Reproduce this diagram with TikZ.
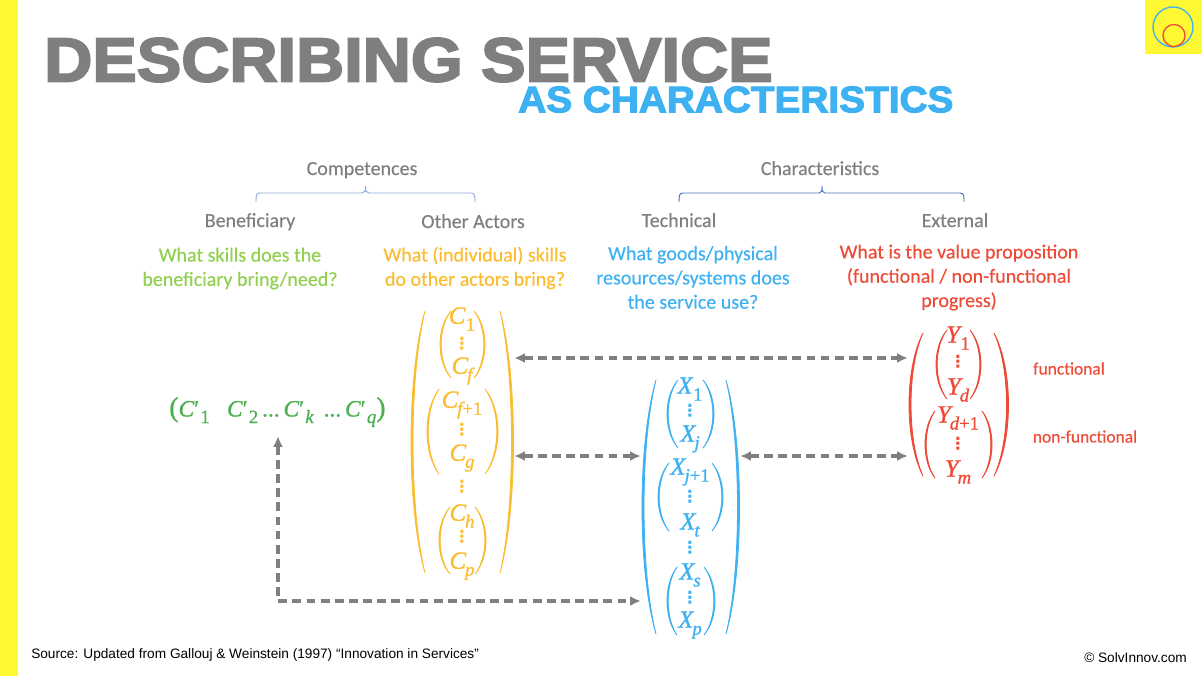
\documentclass[tikz,border=0pt]{standalone}
\usepackage{fontspec}
\usetikzlibrary{arrows.meta}
\setmainfont[FakeBold=0.25]{Carlito}
\newfontfamily\titlefont[FakeBold=3.2,FakeStretch=1.075]{Liberation Sans Bold}
\newfontfamily\subtitlefont[FakeBold=3,FakeStretch=1.05]{Liberation Sans Bold}
\newfontfamily\mathvar[FakeBold=1]{Liberation Serif Italic}
\newfontfamily\mathnum[FakeBold=0.7]{Liberation Serif}
\newfontfamily\plainsans{Liberation Sans}
\newfontfamily\dotfont{DejaVu Sans Bold}
\definecolor{ttgray}{HTML}{7F7F7F}
\definecolor{skyc}{HTML}{3DB1F2}
\definecolor{ambc}{HTML}{FBBC2D}
\definecolor{redc}{HTML}{EE4A36}
\definecolor{limec}{HTML}{92D050}
\definecolor{leafc}{HTML}{4CAF50}
\definecolor{yelc}{HTML}{FFF933}
\definecolor{bracea}{HTML}{8FAADC}
\definecolor{braceb}{HTML}{4472C4}
\newcommand{\subfont}{\fontsize{14}{15}\selectfont}
\newcommand{\mv}[2]{{\mathvar #1}\kern-0.04em\raisebox{-0.28em}{\subfont\mathvar #2}}
\newcommand{\mn}[2]{{\mathvar #1}\kern 0.02em\raisebox{-0.28em}{\subfont\mathnum #2}}
\newcommand{\mvn}[3]{{\mathvar #1}\kern-0.04em\raisebox{-0.28em}{\subfont{\mathvar #2}{\mathnum +1}}}
\newcommand{\mpr}[2]{{\mathvar #1}{\mathnum\char"2032}\kern 0.05em\raisebox{-0.28em}{\subfont #2}}
% crescent shaped pair of parentheses: colour, xtopL, xbulgeL, xtopR, xbulgeR, ytop, ybottom, thickness
\newcommand{\parenpair}[8]{%
  \pgfmathsetmacro{\cyt}{#6+0.25*(#7-#6)}%
  \pgfmathsetmacro{\cyb}{#7-0.25*(#7-#6)}%
  \pgfmathsetmacro{\cla}{#2+(#3-#2)/0.75}%
  \pgfmathsetmacro{\clb}{\cla+#8/0.75}%
  \pgfmathsetmacro{\cra}{#4+(#5-#4)/0.75}%
  \pgfmathsetmacro{\crb}{\cra-#8/0.75}%
  \path[fill=#1,draw=#1,line width=0.6pt,line join=round]
    (#2,#6) .. controls (\cla,\cyt) and (\cla,\cyb) .. (#2,#7)
            .. controls (\clb,\cyb) and (\clb,\cyt) .. cycle;
  \path[fill=#1,draw=#1,line width=0.6pt,line join=round]
    (#4,#6) .. controls (\cra,\cyt) and (\cra,\cyb) .. (#4,#7)
            .. controls (\crb,\cyb) and (\crb,\cyt) .. cycle;
}
\tikzset{
  x=0.75pt,y=-0.75pt,
  head/.style={font=\fontsize{15}{17}\selectfont,text=ttgray,inner sep=0pt,anchor=base},
  ask/.style={font=\fontsize{15}{18.2}\selectfont,inner sep=0pt,align=center},
  mvar/.style={font=\fontsize{18.6}{22}\selectfont,inner sep=0pt},
  vdot/.style={font=\dotfont\fontsize{12.5}{13}\selectfont,inner sep=0pt},
  slot/.style={inner sep=0pt,minimum width=#1},
  link/.style={draw=ttgray,line width=2.4pt,dash pattern=on 6.6pt off 4pt,
    {Latex[length=8pt,width=7.5pt]}-{Latex[length=8pt,width=7.5pt]}},
  bracket/.style={line width=0.7pt},
  side/.style={font=\fontsize{13.1}{15}\selectfont,text=redc,inner sep=0pt},
  foot/.style={font=\plainsans\fontsize{10.25}{12}\selectfont,text=black,inner sep=0pt}
}
\begin{document}
\begin{tikzpicture}
\useasboundingbox (0,0) rectangle (1202,676);
\fill[white] (0,0) rectangle (1202,676);
\fill[yelc] (0,0) rectangle (18,676);
\fill[yelc] (1145,0) rectangle (1202,54);
\draw[skyc,line width=1pt] (1173,27) circle [radius=20];
\draw[redc,line width=1pt] (1174,35.5) circle [radius=11];

\node[anchor=west,inner sep=0pt,text=ttgray,font=\titlefont\fontsize{46.5}{48}\selectfont] (title) at (44,60) {DESCRIBING SERVICE};
\node[anchor=west,inner sep=0pt,text=skyc,font=\subtitlefont\fontsize{27.7}{30}\selectfont] (subtitle) at (518,99.5) {AS CHARACTERISTICS};

% group headings
\node[head] (comp) at (362,175) {Competences};
\node[head] (char) at (820,175) {Characteristics};
\node[head] (bene) at (250,227) {Beneficiary};
\node[head] (other) at (473,228) {Other Actors};
\node[head] (tech) at (679,227) {Technical};
\node[head] (ext) at (955,227) {External};
\draw[bracea,bracket] (256,202) .. controls (256,196) and (256,193) .. (260,193) -- (362,193) .. controls (365,193) and (365.5,191) .. (365.5,186) .. controls (365.5,191) and (366,193) .. (369,193) -- (471,193) .. controls (475,193) and (475,196) .. (475,202);
\draw[braceb,bracket] (679,202) .. controls (679,196) and (679,193) .. (683,193) -- (819,193) .. controls (822,193) and (822,191) .. (822,186) .. controls (822,191) and (822.5,193) .. (825,193) -- (960,193) .. controls (964,193) and (964,196) .. (964,202);

% questions
\node[ask,text=limec] (q1) at (240,268.5) {What skills does the\\beneficiary bring/need?};
\node[ask,text=ambc] (q2) at (475,268) {What (individual) skills\\do other actors bring?};
\node[ask,text=skyc] (q3) at (693,277.5) {What goods/physical\\resources/systems does\\the service use?};
\node[ask,text=redc] (q4) at (959,277.5) {What is the value proposition\\(functional / non-functional\\progress)};

% anchors for connectors
\node[slot=103*0.75pt,minimum height=196.5pt] (cbox) at (462.5,442) {};
\node[slot=99*0.75pt,minimum height=191pt] (xbox) at (690.5,507) {};
\node[slot=101*0.75pt,minimum height=109pt] (ybox) at (958.5,405) {};
\coordinate (rowa) at (0,358);
\coordinate (rowb) at (0,456);
\coordinate (rowc) at (278,601);

% orange
\parenpair{ambc}{425}{411}{500}{513.5}{311}{573}{2}
\parenpair{ambc}{451}{440}{474}{485}{311}{378}{1.2}
\parenpair{ambc}{439}{427}{485}{498}{389}{474}{1.2}
\parenpair{ambc}{450}{439}{475}{486}{507}{574}{1.2}
\begin{scope}[text=ambc]
\node[mvar] (c1) at (462,319) {\mn{C}{1}};
\node[vdot] (cd1) at (462,344) {⋮};
\node[mvar] (cf) at (462,371) {\mv{C}{f}};
\node[mvar] (cf1) at (462,405) {\mvn{C}{f}{1}};
\node[vdot] (cd2) at (462,430) {⋮};
\node[mvar] (cg) at (462,458) {\mv{C}{g}};
\node[vdot] (cd3) at (462,487) {⋮};
\node[mvar] (ch) at (462,516) {\mv{C}{h}};
\node[vdot] (cd4) at (462,537) {⋮};
\node[mvar] (cp) at (462,566) {\mv{C}{p}};
\end{scope}

% blue
\parenpair{skyc}{656}{642}{726}{739.5}{380}{634}{2}
\parenpair{skyc}{678}{667}{703}{714}{380}{448}{1.2}
\parenpair{skyc}{669}{658}{712}{723}{463}{531}{1.2}
\parenpair{skyc}{677}{667}{704}{715}{567}{635}{1.2}
\begin{scope}[text=skyc]
\node[mvar] (x1) at (690,389) {\mn{X}{1}};
\node[vdot] (xd1) at (690,411) {⋮};
\node[mvar] (xj) at (690,439) {\mv{X}{j}};
\node[mvar] (xj1) at (690,472) {\mvn{X}{j}{1}};
\node[vdot] (xd2) at (690,497) {⋮};
\node[mvar] (xt) at (690,525) {\mv{X}{t}};
\node[vdot] (xd3) at (690,548) {⋮};
\node[mvar] (xs) at (690,575) {\mv{X}{s}};
\node[vdot] (xd4) at (690,598) {⋮};
\node[mvar] (xp) at (690,625) {\mv{X}{p}};
\end{scope}

% red
\parenpair{redc}{923}{909}{994}{1008.5}{333}{476}{2}
\parenpair{redc}{947}{936}{970}{981}{330}{399}{1.2}
\parenpair{redc}{935}{925}{982}{992}{411}{478}{1.2}
\begin{scope}[text=redc]
\node[mvar] (y1) at (958,338) {\mn{Y}{1}};
\node[vdot] (yd1) at (958,362) {⋮};
\node[mvar] (yd) at (958,390) {\mv{Y}{d}};
\node[mvar] (yd1b) at (958,418) {\mvn{Y}{d}{1}};
\node[vdot] (yd2) at (958,444) {⋮};
\node[mvar] (ym) at (958,472) {\mv{Y}{m}};
\end{scope}
\node[side] (func) at (1069,368.5) {functional};
\node[side] (nfunc) at (1085,436.5) {non-functional};

% green row
\node[text=leafc,anchor=west,inner sep=0pt,minimum height=36pt,font=\fontsize{17.5}{22}\selectfont] (green) at (169,412) {{\fontsize{21}{24}\selectfont\mathnum(}\mpr{C}{\mathnum 1}\hspace{13pt}\mpr{C}{\mathnum 2}\,{\mathnum...}\,\mpr{C}{\mathvar k}\hspace{7.5pt}{\mathnum...}\,\mpr{C}{\mathvar q}{\fontsize{21}{24}\selectfont\mathnum)}};

% connectors
\draw[link] (cbox.east |- rowa) -- (ybox.west |- rowa);
\draw[link] (cbox.east |- rowb) -- (xbox.west |- rowb);
\draw[link] (xbox.east |- rowb) -- (ybox.west |- rowb);
\draw[link] (rowc |- green.south) -- (rowc) -- (xbox.west |- rowc);

% footer
\node[foot,anchor=west] (src) at (31,654.5) {Source: Updated from Gallouj \& Weinstein (1997) “Innovation in Services”};
\node[foot,anchor=east] (copy) at (1187,658) {© SolvInnov.com};
\end{tikzpicture}
\end{document}
